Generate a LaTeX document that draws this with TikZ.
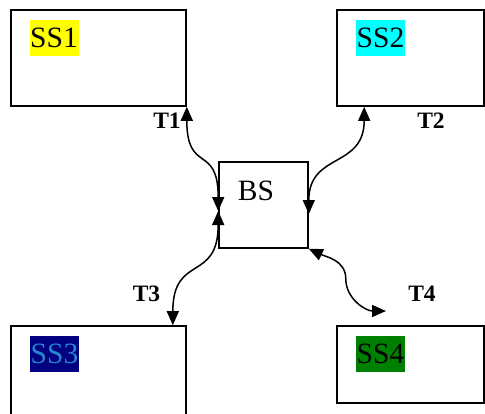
\documentclass[tikz,border=0pt]{standalone}
\usepackage{fontspec}
\setmainfont{Liberation Serif}
\usetikzlibrary{arrows.meta}
\definecolor{hlyellow}{RGB}{255,255,0}
\definecolor{hlcyan}{RGB}{0,255,255}
\definecolor{hlnavy}{RGB}{0,0,128}
\definecolor{hlgreen}{RGB}{0,128,0}
\definecolor{sstxt}{RGB}{35,135,205}
\begin{document}
\begin{tikzpicture}[x=1pt,y=1pt,
  box/.style={draw,line width=1.6pt,rectangle,inner sep=0pt},
  hl/.style={inner sep=0pt,minimum width=49pt,minimum height=36pt,text height=19.5pt,text depth=0pt,font=\fontsize{29.5}{34}\selectfont},
  tlab/.style={anchor=base,inner sep=0pt,font=\fontsize{23.5}{28}\selectfont\bfseries},
  link/.style={line width=1.5pt,{Triangle[length=14pt,width=12pt]}-{Triangle[length=14pt,width=12pt]}}]
\useasboundingbox (0,0) rectangle (485,-413);
\clip (0,0) rectangle (485,-413);
% boxes
\node[box,minimum width=175pt,minimum height=96pt] (ss1) at (98.5,-58) {};
\node[box,minimum width=147pt,minimum height=96pt] (ss2) at (410.5,-58) {};
\node[box,minimum width=89pt,minimum height=86pt] (bs) at (263.5,-205) {};
\node[box,minimum width=175pt,minimum height=100pt] (ss3) at (98.5,-376) {};
\node[box,minimum width=147pt,minimum height=77pt] (ss4) at (410.5,-364.5) {};
% texts
\node[hl,fill=hlyellow] (ss1t) at (54,-38) {SS1};
\node[hl,fill=hlcyan] (ss2t) at (380.5,-38) {SS2};
\node[hl,fill=hlnavy,text=sstxt] (ss3t) at (54.5,-354) {SS3};
\node[hl,fill=hlgreen] (ss4t) at (380.5,-354) {SS4};
\node[anchor=base,inner sep=0pt,font=\fontsize{29.5}{34}\selectfont] (bst) at (256,-200) {BS};
% labels
\node[tlab] (t1) at (167,-128) {T1};
\node[tlab] (t2) at (431,-128) {T2};
\node[tlab] (t3) at (146.5,-301) {T3};
\node[tlab] (t4) at (422,-301) {T4};
% connectors
\coordinate (t4end) at (386,-311);
\draw[link] (ss1.south east) .. controls +(0,-68) and +(0,68) .. ([yshift=-6pt]bs.west);
\draw[link] ([yshift=-6pt]bs.west) .. controls +(0,-72) and +(0,72) .. ([xshift=-14pt]ss3.north east);
\draw[link] ([xshift=28pt]ss2.south west) .. controls +(0,-62) and +(0,62) .. ([yshift=-9pt]bs.east);
\draw[link] (bs.south east) to[out=-25,in=90] ++(37,-30) to[out=-90,in=180] (t4end);
\end{tikzpicture}
\end{document}
